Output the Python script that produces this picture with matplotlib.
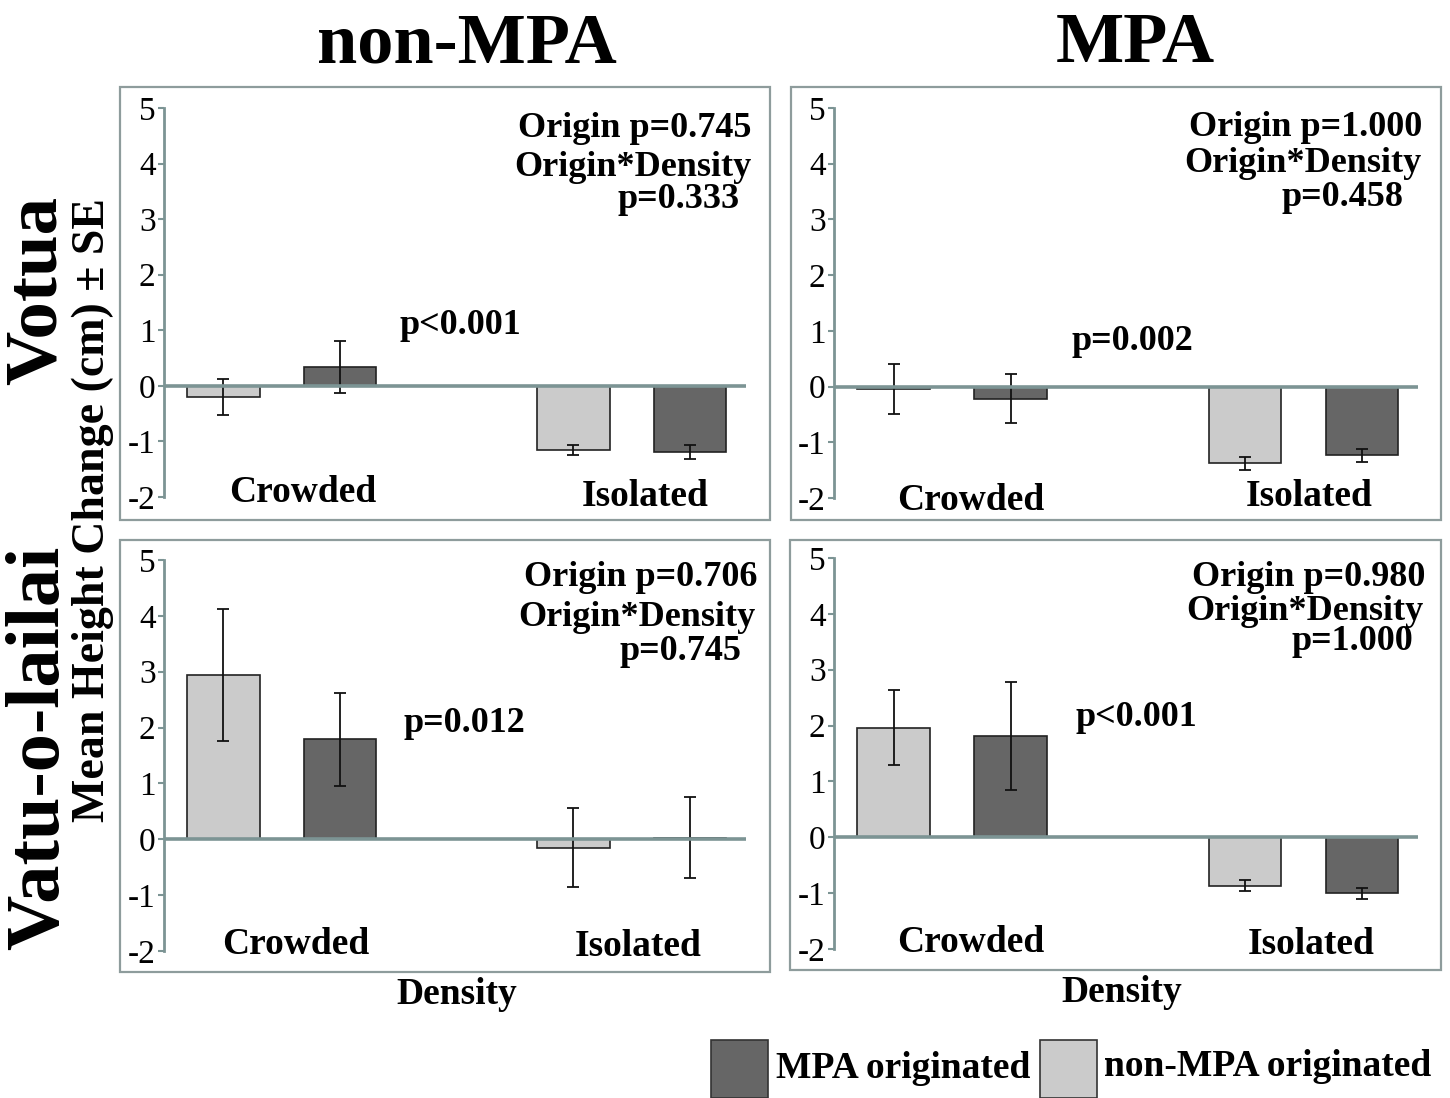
import numpy as np
import matplotlib
matplotlib.use("Agg")
import matplotlib.pyplot as plt
from matplotlib.patches import Rectangle

# categories
densities = ['Crowded', 'Isolated']
sites = ['Votua', 'Vatu-o-lailai']
habitats = ['non-MPA', 'MPA']

# means / SE, order within each list: Crowded, Isolated
# light bars = non-MPA originated, dark bars = MPA originated
votua_nonmpa_light = [-0.20, -1.16]
votua_nonmpa_light_se = [0.33, 0.09]
votua_nonmpa_dark = [0.34, -1.19]
votua_nonmpa_dark_se = [0.47, 0.13]

votua_mpa_light = [-0.04, -1.38]
votua_mpa_light_se = [0.45, 0.12]
votua_mpa_dark = [-0.22, -1.23]
votua_mpa_dark_se = [0.44, 0.115]

vatu_nonmpa_light = [2.94, -0.15]
vatu_nonmpa_light_se = [1.18, 0.71]
vatu_nonmpa_dark = [1.79, 0.03]
vatu_nonmpa_dark_se = [0.83, 0.72]

vatu_mpa_light = [1.96, -0.87]
vatu_mpa_light_se = [0.67, 0.10]
vatu_mpa_dark = [1.81, -1.00]
vatu_mpa_dark_se = [0.97, 0.10]

origin_p = ['Origin p=0.745', 'Origin p=1.000', 'Origin p=0.706', 'Origin p=0.980']
inter_p = ['p=0.333', 'p=0.458', 'p=0.745', 'p=1.000']
density_p = ['p<0.001', 'p=0.002', 'p=0.012', 'p<0.001']

yticks = [-2, -1, 0, 1, 2, 3, 4, 5]

W, H = 1450, 1098
SERIF = 'Liberation Serif'
LIGHT = '#cbcbcb'
DARK = '#666666'
AXCOL = '#7c9494'
BOXCOL = '#8e9c9c'


def fx(px):
    return px / W


def fy(py):
    return 1 - py / H


fig = plt.figure(figsize=(W / 100, H / 100), dpi=100)
fig.patch.set_facecolor('white')

# panel layout in pixels: (spine x, right x, y of 5, y of -2, box)
panels = [
    dict(x0=164, x1=746, ytop=108, ybot=497, box=(120, 87, 770, 520),
         light=votua_nonmpa_light, lse=votua_nonmpa_light_se,
         dark=votua_nonmpa_dark, dse=votua_nonmpa_dark_se,
         ann=[(752, 128), (752, 167), (740, 200)], dp=(400, 326),
         lab=[(303, 493), (645, 496)]),
    dict(x0=834, x1=1418, ytop=108, ybot=498, box=(791, 87, 1441, 520),
         light=votua_mpa_light, lse=votua_mpa_light_se,
         dark=votua_mpa_dark, dse=votua_mpa_dark_se,
         ann=[(1422, 127), (1421, 163), (1404, 198)], dp=(1071, 342),
         lab=[(971, 500), (1309, 497)]),
    dict(x0=164, x1=746, ytop=560, ybot=951, box=(120, 540, 770, 972),
         light=vatu_nonmpa_light, lse=vatu_nonmpa_light_se,
         dark=vatu_nonmpa_dark, dse=vatu_nonmpa_dark_se,
         ann=[(757, 578), (755, 618), (741, 651)], dp=(403, 723),
         lab=[(296, 944), (638, 946)]),
    dict(x0=834, x1=1418, ytop=558, ybot=949, box=(790, 540, 1441, 970),
         light=vatu_mpa_light, lse=vatu_mpa_light_se,
         dark=vatu_mpa_dark, dse=vatu_mpa_dark_se,
         ann=[(1425, 577), (1424, 611), (1413, 642)], dp=(1075, 717),
         lab=[(971, 942), (1311, 945)]),
]

pos_light = np.array([0, 3])
pos_dark = np.array([1, 4])

for i, p in enumerate(panels):
    bx0, by0, bx1, by1 = p['box']
    fig.add_artist(Rectangle((fx(bx0), fy(by1)), fx(bx1 - bx0), (by1 - by0) / H,
                             transform=fig.transFigure, fill=False,
                             edgecolor=BOXCOL, linewidth=1.6))

    ax = fig.add_axes([fx(p['x0']), fy(p['ybot']), fx(p['x1'] - p['x0']),
                       (p['ybot'] - p['ytop']) / H])
    ax.patch.set_alpha(0)
    ekw = dict(ecolor='#111111', elinewidth=1.3, capsize=4, capthick=1.3)
    ax.bar(pos_light, p['light'], width=0.62, color=LIGHT, edgecolor='#222222',
           linewidth=1.2, yerr=p['lse'], error_kw=ekw, zorder=2)
    ax.bar(pos_dark, p['dark'], width=0.62, color=DARK, edgecolor='#222222',
           linewidth=1.2, yerr=p['dse'], error_kw=ekw, zorder=2)
    ax.axhline(0, color=AXCOL, linewidth=2.6, zorder=3)

    ax.set_xlim(-0.51, 4.48)
    ax.set_ylim(-2, 5)
    ax.set_yticks(yticks)
    ax.set_yticklabels([str(t) for t in yticks], fontfamily=SERIF, fontsize=24)
    ax.tick_params(axis='y', length=4, width=1.5, color=AXCOL, pad=2)
    ax.set_xticks([])
    for s in ['top', 'right', 'bottom']:
        ax.spines[s].set_visible(False)
    ax.spines['left'].set_color(AXCOL)
    ax.spines['left'].set_linewidth(2)

    tk = dict(fontfamily=SERIF, fontweight='bold', fontsize=26, ha='right', va='center')
    fig.text(fx(p['ann'][0][0]), fy(p['ann'][0][1]), origin_p[i], **tk)
    fig.text(fx(p['ann'][1][0]), fy(p['ann'][1][1]), 'Origin*Density', **tk)
    fig.text(fx(p['ann'][2][0]), fy(p['ann'][2][1]), inter_p[i], **tk)
    fig.text(fx(p['dp'][0]), fy(p['dp'][1]), density_p[i], fontfamily=SERIF,
             fontweight='bold', fontsize=26, ha='left', va='center')
    for name, (lx, ly) in zip(densities, p['lab']):
        fig.text(fx(lx), fy(ly), name, fontfamily=SERIF, fontweight='bold',
                 fontsize=27, ha='center', va='center')

# column titles
fig.text(fx(467), fy(45), habitats[0], fontfamily=SERIF, fontweight='bold',
         fontsize=52, ha='center', va='center')
fig.text(fx(1135), fy(45), habitats[1], fontfamily=SERIF, fontweight='bold',
         fontsize=52, ha='center', va='center')

# row titles + y label
fig.text(fx(38), fy(290), sites[0], fontfamily=SERIF, fontweight='bold',
         fontsize=54, ha='center', va='center', rotation=90)
fig.text(fx(40), fy(748), sites[1], fontfamily=SERIF, fontweight='bold',
         fontsize=55, ha='center', va='center', rotation=90)
fig.text(fx(93), fy(510), 'Mean Height Change (cm) \u00b1 SE', fontfamily=SERIF,
         fontweight='bold', fontsize=33, ha='center', va='center', rotation=90)

# x labels
fig.text(fx(457), fy(995), 'Density', fontfamily=SERIF, fontweight='bold',
         fontsize=27, ha='center', va='center')
fig.text(fx(1122), fy(992), 'Density', fontfamily=SERIF, fontweight='bold',
         fontsize=27, ha='center', va='center')

# legend
fig.add_artist(Rectangle((fx(711), fy(1098)), fx(57), 58 / H, transform=fig.transFigure,
                         facecolor=DARK, edgecolor='#333333', linewidth=1.2))
fig.text(fx(776), fy(1068), 'MPA originated', fontfamily=SERIF, fontweight='bold',
         fontsize=27, ha='left', va='center')
fig.add_artist(Rectangle((fx(1040), fy(1098)), fx(57), 58 / H, transform=fig.transFigure,
                         facecolor=LIGHT, edgecolor='#333333', linewidth=1.2))
fig.text(fx(1104), fy(1066), 'non-MPA originated', fontfamily=SERIF, fontweight='bold',
         fontsize=27, ha='left', va='center')

fig.savefig('out.png', dpi=100)
